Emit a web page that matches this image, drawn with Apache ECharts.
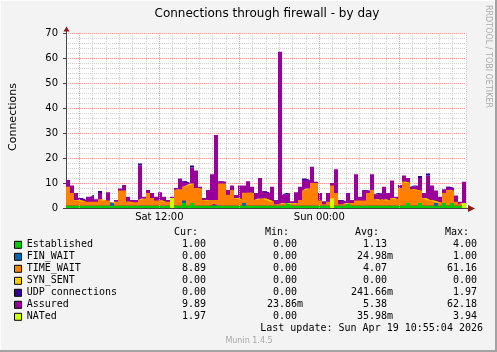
<!DOCTYPE html>
<html><head><meta charset="utf-8">
<script src="https://cdn.jsdelivr.net/npm/echarts@6/dist/echarts.min.js"></script>
<style>html,body{margin:0;padding:0;background:#f3f3f3}#c{width:497px;height:352px}</style>
</head><body><div id="c"></div>
<script>
// ---- time axis (hours since Sat 00:00) ----
const hourStart = 5, hourEnd = 35, stepH = 0.3;
const tickLabels = {12: 'Sat 12:00', 24: 'Sun 00:00'};
const majorHours = [6, 12, 18, 24, 30];

// ---- series values (one per 18-minute bin) ----
const established = [1,1,1,1,1,1,1,1,1,1, 1,1,1,1,1,1,1,1,1,1, 1,1,1,1,1,1,1,1,1,2, 1,2,1,1,1,1,1,1,1,1,
  1,1,1,1,1,1,1,1,1,1, 1,1,1,1,1,2,1,1,1,1, 1,1,1,1,1,1,2,1,1,1, 2,1,1,1,1,1,1,1,1,1,
  1,1,1,1,1,2,1,1,2,1, 1,1,1,1,2,1,2,1,1,1];
const finWait = [0,0,0,0,0,0,0,0,0,0, 0,1,0,0,0,0,0,0,0,0, 0,0,0,0,0,0,0,0,0,1, 0,0,0,0,0,0,0,0.6,0,0,
  0,0,0,0,1,0,0,0,0,0, 0,0,0,0,0,0,0,0,0,0, 0,0,0,0,0,0,0,0,0,0, 0,0,0,0,0,0,0,0,0,0,
  0,0,0,0,0,0,0,0,0,0, 0,0,1,0,0,0,0,0,0,0];
const timeWait = [7.5,5,2.2,2,1.5,1.5,1.5,1.5,2.4,2, 2,0,1.5,6,6,1.5,1.3,1.3,2.2,2.8,
  5,3,2,2,1.5,1.5,2.5,6.2,6.5,5.5, 8,7.8,7,6.8,2.2,2,2.2,1.6,8.8,8.8,
  4.3,6.2,3,2.5,4.1,5.1,5,2.2,2.8,2.8, 2.2,1.5,0.5,0.5,1,0,0.5,1,2.2,6,
  6.8,9,9,2,0.5,1.5,7,5,0.5,0.5, 0,1,2,2,2,5,6.2,2.5,2,2.5,
  2,3,2.5,7,9.5,8,6.5,6.2,5,3, 2.2,2,0.5,1,4,6.2,5,1.5,0.5,1];
const synSent = [0,0,0,0,0,0,0,0,0,0, 0,0,0,0,0,0,0,0,0,0, 0,0,0,0,0,0,0,0,0,0, 0,0,0,0,0,0,0,0,0,0,
  0,0,0,0,0,0,0,0,0,0, 0,0,0,0,0,0,0,0,0,0, 0,0,0,0,0,0,0,0,0,0, 0,0,0,0,0,0,0,0,0,0,
  0,0,0,0,0,0,0,0,0,0, 0,0,0,0,0,0,0,0,0,0];
const udp = [0,0,0,0,0,0,0.8,0,0.8,0, 0,0,0,0,0,0,0,0,0.8,0, 0,0,0,0,0,0,0,0,0,0, 0,0.8,0,0,0,0,0,0,0,0,
  0,0,0,0,0,0,0,0,0,0, 0,0,0,0,0,0,0,0,0,0.6, 0,0,0,0,0,0,0,0,0,0, 0,0,0,0,0,0,0,0,0,0,
  0,0,0,0,0,0,0,0,0.8,0, 0.8,0,0,0,0,0,0,0,0,0];
const assured = [11.2,9,6,4,3.2,4.5,4.5,3.5,6,3, 6.3,2.3,3.2,7.8,9.2,4.5,3.2,3.2,17,4.5,
  7.2,6,4.5,6.3,4.5,3.2,4.5,8,11.8,10.7, 10,16.2,15,8.5,4,7.2,13.5,29.2,10.7,10.5,
  7.2,9,5.2,9,9,10.7,8.5,6,12,6.7, 6,8.5,3.2,62.5,5.3,6,2.7,6.3,8.5,11.2,
  11.2,16.5,10.5,6,2.7,6,10,15.5,3.2,2.7, 6,3.2,13.5,4.5,7.2,7,13.5,5.5,6,8.5,
  6,11,4.5,9.2,13,12,8.5,9,12,6, 13,9,7,4.5,7.5,8.5,8,5,2.5,10.5];
const nated = [0,0,0,0,0,0,0,0,0,0, 0,0,0,0,0,0,0,0,0,0, 0,0,0,0,0,0,4,0,0,0, 0,0,0,0,0,0,0,0,0,0,
  0,0,0,0,0,0,0,0,0,0, 0,0,0,0,0,0,0,0,0,0, 0,0,0,0,0,0,3.8,0,0,0, 0,0,0,0,0,0,0,0,0,0,
  0,0,0,0,0,0,0,0,0,0, 0,0,0,0,0,0,0,0,0,2];

// ---- legend table ----
const legendNames = ['Established','FIN_WAIT','TIME_WAIT','SYN_SENT','UDP connections','Assured','NATed'];
const legendColors = ['#00CC00','#0066B3','#FF8000','#FFCC00','#330099','#990099','#CCFF00'];
const curVals = ['1.00','0.00','8.89','0.00','0.00','9.89','1.97'];
const minVals = ['0.00','0.00','0.00','0.00','0.00','23.86m','0.00'];
const avgVals = ['1.13','24.98m','4.07','0.00','241.66m','5.38','35.98m'];
const maxVals = ['4.00','1.00','61.16','0.00','1.97','62.18','3.94'];
const colHeaders = ['Cur:','Min:','Avg:','Max:'];
const lastUpdate = 'Last update: Sun Apr 19 10:55:04 2026';
const titleText = 'Connections through firewall - by day';
const yName = 'Connections';

// bin start times (+ closing edge) used as categories of the hidden band axis
const times = established.map((_, i) => (hourStart + i * stepH).toFixed(1));
times.push(String(hourEnd));
function closed(arr) { return arr.concat([arr[arr.length - 1]]); }
function area(name, arr, color, stack, z) {
  return { name, type: 'line', xAxisIndex: 1, data: closed(arr), step: 'end', stack, symbol: 'none', showSymbol: false,
    lineStyle: { width: 0 }, areaStyle: { color, opacity: 1 }, itemStyle: { color }, z, silent: true, animation: false };
}

const chart = echarts.init(document.getElementById('c'), null, { renderer: 'canvas', width: 497, height: 352 });
const gridGray = '#cfcfcf', gridRed = '#ee9a9a', axisCol = '#444';
chart.setOption({
  backgroundColor: '#f3f3f3',
  animation: false,
  grid: { left: 66, top: 33, width: 400, height: 175, show: true, backgroundColor: '#ffffff', borderWidth: 0 },
  xAxis: [{
    type: 'value', min: hourStart, max: hourEnd, interval: 1,
    axisLine: { show: true, onZero: false, lineStyle: { color: axisCol, width: 1 } },
    axisTick: { show: false },
    axisLabel: { interval: 0, hideOverlap: false, margin: 4, fontSize: 10, fontFamily: 'DejaVu Sans', color: '#000',
      formatter: v => tickLabels[v] || '' },
    splitLine: { show: true, lineStyle: { color: gridGray, type: [1, 1], width: 1 } }
  }, {
    type: 'category', data: times, boundaryGap: false, show: false,
    axisLine: { show: false }, axisTick: { show: false }, axisLabel: { show: false }, splitLine: { show: false }
  }],
  yAxis: [{
    type: 'value', min: 0, max: 70, interval: 2,
    axisLine: { show: true, lineStyle: { color: axisCol, width: 1 } },
    axisTick: { show: false },
    axisLabel: { interval: 0, margin: 8, fontSize: 10, fontFamily: 'DejaVu Sans', color: '#000',
      formatter: v => (v % 10 === 0 ? String(v) : '') },
    splitLine: { show: true, lineStyle: { color: gridGray, type: [1, 1], width: 1 } }
  }, {
    type: 'value', min: 0, max: 70, interval: 10, position: 'left',
    axisLine: { show: false }, axisLabel: { show: false },
    axisTick: { show: true, length: 3, lineStyle: { color: axisCol } },
    splitLine: { show: true, lineStyle: { color: gridRed, type: [1, 1], width: 1 } }
  }],
  series: [
    { type: 'line', xAxisIndex: 0, data: [[hourStart, 0]], symbol: 'none', lineStyle: { width: 0 }, z: 1, silent: true,
      markLine: { silent: true, symbol: ['none', 'none'], label: { show: false }, animation: false,
        lineStyle: { color: gridRed, type: [1, 1], width: 1 }, emphasis: { disabled: true },
        data: majorHours.map(h => ({ xAxis: h })) } },
    area('Assured', assured, '#990099', 'b', 2),
    area('UDP connections', udp, '#330099', 'b', 2),
    area('Established', established, '#00CC00', 'a', 3),
    area('FIN_WAIT', finWait, '#0066B3', 'a', 3),
    area('TIME_WAIT', timeWait, '#FF8000', 'a', 3),
    area('SYN_SENT', synSent, '#FFCC00', 'a', 3),
    area('NATed', nated, '#CCFF00', undefined, 4)
  ]
});

const mono = '10px "DejaVu Sans Mono"';
const g = [];
// frame
g.push({ type: 'rect', shape: { x: 0, y: 0, width: 497, height: 1 }, style: { fill: '#fdfdfd' }, silent: true });
g.push({ type: 'rect', shape: { x: 0, y: 0, width: 1, height: 352 }, style: { fill: '#fdfdfd' }, silent: true });
g.push({ type: 'rect', shape: { x: 0, y: 350, width: 497, height: 2 }, style: { fill: '#a3a3a3' }, silent: true });
g.push({ type: 'rect', shape: { x: 495, y: 0, width: 2, height: 352 }, style: { fill: '#a3a3a3' }, silent: true });
// title
g.push({ type: 'text', x: 267, y: 13.5, silent: true,
  style: { text: titleText, font: '12px "DejaVu Sans"', fill: '#000', textAlign: 'center', textVerticalAlign: 'middle' } });
g.push({ type: 'text', x: 488, y: 5, rotation: -Math.PI / 2, silent: true,
  style: { text: 'RRDTOOL / TOBI OETIKER', font: '8px "DejaVu Sans"', fill: '#ababab', textAlign: 'left', textVerticalAlign: 'middle' } });
g.push({ type: 'text', x: 13, y: 117, rotation: Math.PI / 2, silent: true,
  style: { text: yName, font: '11px "DejaVu Sans"', fill: '#000', textAlign: 'center', textVerticalAlign: 'middle' } });
// legend table
const headerX = [198, 289, 379, 469];
const valX = [206, 297, 387, 477];
const cols = [curVals, minVals, avgVals, maxVals];
colHeaders.forEach((h, k) => g.push({ type: 'text', x: headerX[k], y: 232, silent: true,
  style: { text: h, font: mono, fill: '#000', textAlign: 'right', textVerticalAlign: 'middle' } }));
legendNames.forEach((name, r) => {
  const y = 244.3 + r * 12;
  g.push({ type: 'rect', shape: { x: 14.5, y: y - 3, width: 7, height: 7 }, silent: true,
    style: { fill: legendColors[r], stroke: '#000', lineWidth: 1 } });
  g.push({ type: 'text', x: 26.7, y, silent: true,
    style: { text: name, font: mono, fill: '#000', textAlign: 'left', textVerticalAlign: 'middle' } });
  cols.forEach((col, k) => {
    const s = col[r];
    const hasM = s.endsWith('m');
    g.push({ type: 'text', x: valX[k], y, silent: true,
      style: { text: hasM ? s.slice(0, -1) : s, font: mono, fill: '#000', textAlign: 'right', textVerticalAlign: 'middle' } });
    if (hasM) g.push({ type: 'text', x: valX[k], y, silent: true,
      style: { text: 'm', font: mono, fill: '#000', textAlign: 'left', textVerticalAlign: 'middle' } });
  });
});
g.push({ type: 'text', x: 483, y: 328.7, silent: true,
  style: { text: lastUpdate, font: mono, fill: '#000', textAlign: 'right', textVerticalAlign: 'middle' } });
g.push({ type: 'text', x: 249, y: 341, silent: true,
  style: { text: 'Munin 1.4.5', font: '8px "DejaVu Sans"', fill: '#a8a8a8', textAlign: 'center', textVerticalAlign: 'middle' } });
// axis arrows from the scales
const pEnd = chart.convertToPixel({ gridIndex: 0 }, [hourEnd, 0]);
const pTop = chart.convertToPixel({ gridIndex: 0 }, [hourStart, 70]);
const arrowCol = '#8b1a1a';
const ex = Math.round(pEnd[0]), ey = Math.round(pEnd[1]) + 0.5;
g.push({ type: 'line', shape: { x1: ex, y1: ey, x2: ex + 3, y2: ey }, style: { stroke: axisCol, lineWidth: 1 }, silent: true });
g.push({ type: 'polygon', shape: { points: [[ex + 2, ey - 3.5], [ex + 2, ey + 3.5], [ex + 9, ey]] }, style: { fill: arrowCol }, silent: true });
const tx = Math.round(pTop[0]) + 0.5, ty = Math.round(pTop[1]);
g.push({ type: 'line', shape: { x1: tx, y1: ty, x2: tx, y2: ty - 2 }, style: { stroke: axisCol, lineWidth: 1 }, silent: true });
g.push({ type: 'polygon', shape: { points: [[tx - 3, ty - 1.5], [tx + 3, ty - 1.5], [tx, ty - 6.5]] }, style: { fill: arrowCol }, silent: true });
chart.setOption({ graphic: g });
</script>
</body></html>
